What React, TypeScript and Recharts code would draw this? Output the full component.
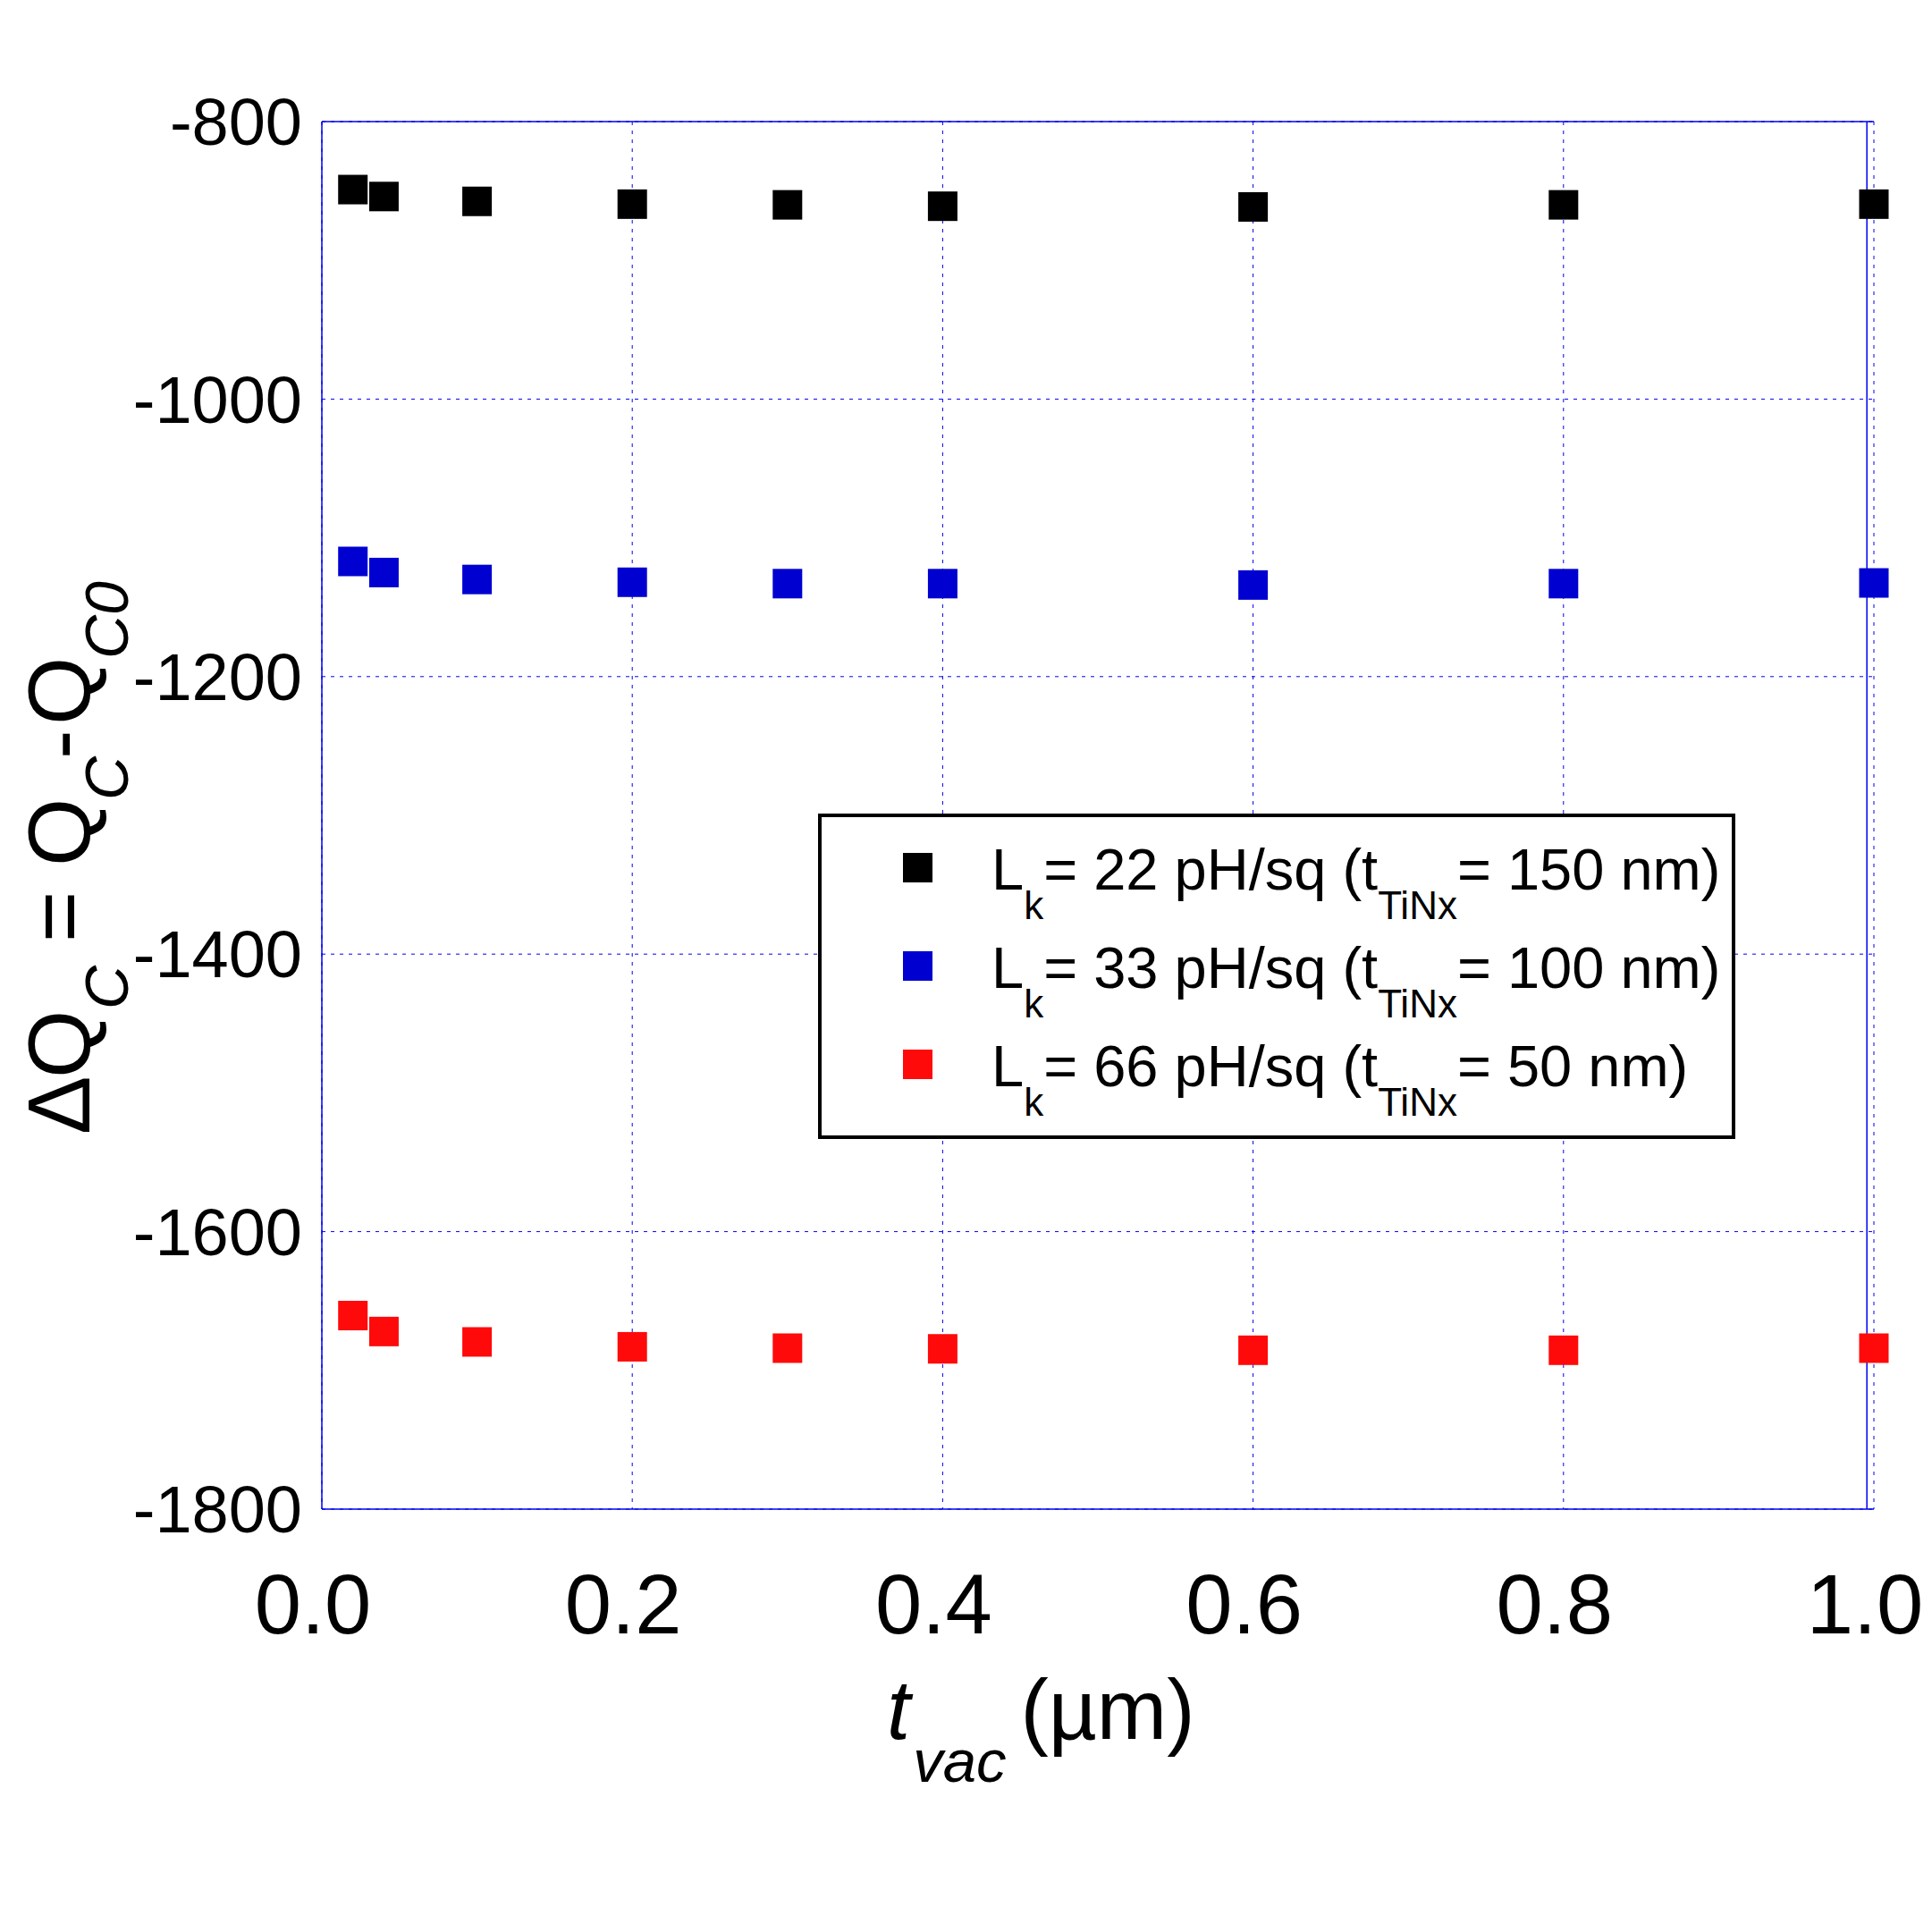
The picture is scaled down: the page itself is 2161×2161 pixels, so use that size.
import { ScatterChart, Scatter, XAxis, YAxis, CartesianGrid, ReferenceLine, Legend } from 'recharts';

// t_vac in µm
const T_VAC = [0.02, 0.04, 0.1, 0.2, 0.3, 0.4, 0.6, 0.8, 1.0];

// ΔQc = Qc - Qc0 for the three kinetic inductances
const DQ_LK22 = [-849, -854, -857.5, -859.5, -860, -861, -861.5, -860, -859.5];
const DQ_LK33 = [-1117, -1125, -1130, -1132, -1133, -1133, -1134, -1133, -1132.5];
const DQ_LK66 = [-1660.5, -1672, -1679.5, -1683, -1684, -1684.5, -1685.5, -1685.5, -1684];

const X_TICKS = [0, 0.2, 0.4, 0.6, 0.8, 1.0];
const Y_TICKS = [-1800, -1600, -1400, -1200, -1000, -800];

const LK = ['22', '33', '66'];
const T_TINX = ['150', '100', '50'];
const COLORS = ['#000000', '#0000d0', '#ff0a0a'];

const FONT = '"Liberation Sans", Arial, sans-serif';
const BLUE = '#0000ee';
const MARK = 33;

const toPoints = (ys: number[]) => T_VAC.map((x, i) => ({ x, y: ys[i] }));

function SquareMark({ cx, cy, fill }: any) {
  return <rect x={cx - MARK / 2} y={cy - MARK / 2} width={MARK} height={MARK} fill={fill} />;
}

function LegendBox({ payload }: any) {
  return (
    <svg width={1026} height={364} style={{ display: 'block' }}>
      <rect x={2} y={2} width={1022} height={360} fill="#fff" stroke="#000" strokeWidth={4} />
      {LK.map((lk, i) => (
        <g key={lk} transform={`translate(0, ${i * 110})`}>
          <rect x={95} y={44} width={MARK} height={MARK} fill={payload?.[i]?.color || COLORS[i]} />
          <text x={194} y={85} fontFamily={FONT} fontSize={65} fill="#000">
            L<tspan dy={33} fontSize={44}>k</tspan>
            <tspan dy={-33}>= {lk} pH/sq (t</tspan>
            <tspan dy={33} fontSize={44}>TiNx</tspan>
            <tspan dy={-33}>= {T_TINX[i]} nm)</tspan>
          </text>
        </g>
      ))}
    </svg>
  );
}

function XTick({ x, y, payload }: any) {
  return (
    <text x={x - 10} y={y + 139} textAnchor="middle" fontFamily={FONT} fontSize={94} fill="#000">
      {Number(payload.value).toFixed(1)}
    </text>
  );
}

function XTitle({ viewBox }: any) {
  const x0 = (viewBox?.x ?? 360) + 632;
  const y0 = (viewBox?.y ?? 1688) + 257;
  return (
    <text x={x0} y={y0} fontFamily={FONT} fontSize={94} fill="#000">
      <tspan fontStyle="italic">t</tspan>
      <tspan fontStyle="italic" fontSize={67} dx={3} dy={48}>vac</tspan>
      <tspan dx={16} dy={-48}>(µm)</tspan>
    </text>
  );
}

function YTitle() {
  const sub = { fontStyle: 'italic', fontSize: 68 } as const;
  return (
    <g transform="translate(100, 1269) rotate(-90)">
      <text x={0} y={0} fontFamily={FONT} fontSize={98} fill="#000">
        <tspan x={0} y={0}>Δ</tspan>
        <tspan x={63} y={0}>Q</tspan>
        <tspan x={140} y={43} {...sub}>C</tspan>
        <tspan x={215} y={0}>=</tspan>
        <tspan x={300} y={0}>Q</tspan>
        <tspan x={374} y={43} {...sub}>C</tspan>
        <tspan x={420} y={0}>-</tspan>
        <tspan x={458} y={0}>Q</tspan>
        <tspan x={532} y={43} {...sub}>C0</tspan>
      </text>
    </g>
  );
}

export default function App() {
  return (
    <div style={{ position: 'absolute', left: 0, top: 0, width: 2161, height: 2161, background: '#fff' }}>
      <ScatterChart width={2161} height={2161} margin={{ top: 136, right: 65, bottom: 0, left: 0 }}>
        <CartesianGrid stroke={BLUE} strokeDasharray="4 6" strokeWidth={1} />
        <XAxis
          type="number"
          dataKey="x"
          domain={[0, 1]}
          ticks={X_TICKS}
          interval={0}
          height={473}
          tickLine={false}
          tickSize={0}
          tickMargin={0}
          axisLine={{ stroke: BLUE, strokeWidth: 1.5 }}
          tick={<XTick />}
          label={<XTitle />}
        />
        <YAxis
          type="number"
          dataKey="y"
          domain={[-1800, -800]}
          ticks={Y_TICKS}
          interval={0}
          width={360}
          tickLine={false}
          tickSize={0}
          tickMargin={22}
          axisLine={{ stroke: BLUE, strokeWidth: 1.5 }}
          tick={{ fontSize: 74, fill: '#000', fontFamily: FONT }}
          label={<YTitle />}
        />
        <ReferenceLine y={-800} stroke={BLUE} strokeWidth={1.5} />
        <ReferenceLine x={0.9955} stroke={BLUE} strokeWidth={1.5} />
        <Scatter name="Lk = 22 pH/sq" data={toPoints(DQ_LK22)} fill={COLORS[0]} shape={<SquareMark />} isAnimationActive={false} />
        <Scatter name="Lk = 33 pH/sq" data={toPoints(DQ_LK33)} fill={COLORS[1]} shape={<SquareMark />} isAnimationActive={false} />
        <Scatter name="Lk = 66 pH/sq" data={toPoints(DQ_LK66)} fill={COLORS[2]} shape={<SquareMark />} isAnimationActive={false} />
        <Legend
          layout="horizontal"
          verticalAlign="middle"
          align="center"
          wrapperStyle={{ left: 915, top: 910, width: 1026, height: 364 }}
          content={<LegendBox />}
        />
      </ScatterChart>
    </div>
  );
}
